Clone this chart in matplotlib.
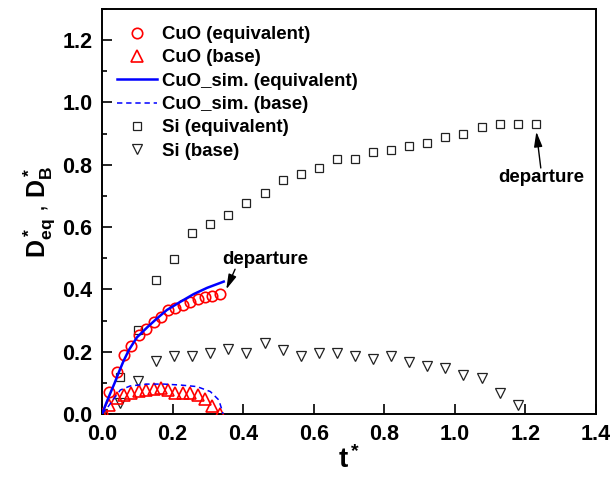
import matplotlib
matplotlib.use("Agg")
import matplotlib.pyplot as plt
from matplotlib.ticker import MultipleLocator, FormatStrFormatter
from matplotlib.lines import Line2D

plt.rcParams['font.family'] = ['Liberation Sans', 'DejaVu Sans']
plt.rcParams['font.weight'] = 'bold'
plt.rcParams['mathtext.fontset'] = 'custom'
plt.rcParams['mathtext.rm'] = 'Liberation Sans:bold'
plt.rcParams['mathtext.bf'] = 'Liberation Sans:bold'
plt.rcParams['mathtext.it'] = 'Liberation Sans:bold'

# ---- data ----
cuo_t = [0, 0.021, 0.042, 0.063, 0.083, 0.104, 0.125, 0.146, 0.167, 0.188,
         0.208, 0.229, 0.250, 0.271, 0.292, 0.313, 0.334]
cuo_eq = [0, 0.072, 0.136, 0.188, 0.218, 0.253, 0.272, 0.295, 0.310, 0.335,
          0.341, 0.351, 0.359, 0.368, 0.374, 0.379, 0.386]
cuo_base = [0, 0.030, 0.050, 0.060, 0.067, 0.073, 0.077, 0.079, 0.083, 0.076,
            0.067, 0.069, 0.066, 0.062, 0.048, 0.025, 0.001]

sim_eq_t = [0, 0.012, 0.024, 0.036, 0.048, 0.061, 0.076, 0.099, 0.128, 0.156,
            0.184, 0.222, 0.260, 0.298, 0.345]
sim_eq = [0, 0.035, 0.068, 0.100, 0.135, 0.170, 0.205, 0.246, 0.278, 0.307,
          0.334, 0.360, 0.385, 0.405, 0.425]

sim_base_t = [0, 0.015, 0.033, 0.052, 0.080, 0.128, 0.175, 0.222, 0.269,
              0.307, 0.331, 0.340, 0.343]
sim_base = [0, 0.020, 0.048, 0.077, 0.090, 0.096, 0.096, 0.093, 0.088,
            0.072, 0.045, 0.013, 0]

si_t = [0, 0.051, 0.102, 0.154, 0.205, 0.256, 0.307, 0.358, 0.409, 0.461,
        0.512, 0.563, 0.614, 0.666, 0.717, 0.768, 0.819, 0.870, 0.922, 0.973,
        1.024, 1.076, 1.127, 1.178, 1.230]
si_eq = [0, 0.118, 0.270, 0.429, 0.498, 0.580, 0.609, 0.638, 0.678, 0.708,
         0.751, 0.770, 0.789, 0.820, 0.819, 0.842, 0.849, 0.860, 0.870, 0.888,
         0.900, 0.920, 0.930, 0.930, 0.930]
si_base = [0, 0.036, 0.106, 0.170, 0.186, 0.186, 0.197, 0.208, 0.197, 0.227,
           0.205, 0.186, 0.197, 0.197, 0.186, 0.175, 0.186, 0.166, 0.155, 0.147,
           0.125, 0.117, 0.066, 0.029]

labels = ['CuO (equivalent)', 'CuO (base)', 'CuO_sim. (equivalent)',
          'CuO_sim. (base)', 'Si (equivalent)', 'Si (base)']

# ---- figure ----
fig = plt.figure(figsize=(6.13, 4.79), dpi=100)
ax = fig.add_axes([102/613, 1-414/479, (596-102)/613, (414-9)/479])

red = '#FF0000'
blue = '#0000FF'
grey = '#222222'

sq = dict(ls='none', marker='s', ms=6.2, mfc='none', mec=grey, mew=0.9)
tv = dict(ls='none', marker='v', ms=7, mfc='none', mec=grey, mew=0.9)
ci = dict(ls='none', marker='o', ms=7.5, mfc='none', mec=red, mew=1.2)
tu = dict(ls='none', marker='^', ms=8, mfc='none', mec=red, mew=1.2)
ls_eq = dict(color=blue, lw=1.8)
ls_b = dict(color=blue, lw=1.1, dashes=(3.5, 2.5))

ax.plot(si_t, si_eq, zorder=2, **sq)
ax.plot(si_t[:len(si_base)], si_base, zorder=2, **tv)
ax.plot(cuo_t, cuo_eq, zorder=3, **ci)
ax.plot(cuo_t, cuo_base, zorder=3, **tu)
ax.plot(sim_eq_t, sim_eq, zorder=4, **ls_eq)
ax.plot(sim_base_t, sim_base, zorder=4, **ls_b)

ax.set_xlim(0, 1.4)
ax.set_ylim(0, 1.3)
ax.xaxis.set_major_locator(MultipleLocator(0.2))
ax.yaxis.set_major_locator(MultipleLocator(0.2))
ax.yaxis.set_minor_locator(MultipleLocator(0.1))
ax.xaxis.set_major_formatter(FormatStrFormatter('%.1f'))
ax.yaxis.set_major_formatter(FormatStrFormatter('%.1f'))
ax.tick_params(which='major', direction='in', length=7, width=1.2, labelsize=15.5, pad=7)
ax.tick_params(which='minor', direction='in', length=3.5, width=1.2)
for lab in ax.get_xticklabels() + ax.get_yticklabels():
    lab.set_fontweight('bold')
for s in ax.spines.values():
    s.set_linewidth(1.4)

ax.set_xlabel(r'$\mathbf{t^*}$', fontsize=20, labelpad=1)
ax.set_ylabel(r'$\mathbf{D^*_{eq}}$ , $\mathbf{D^*_B}$', fontsize=18, labelpad=4)

handles = [Line2D([], [], **ci), Line2D([], [], **tu), Line2D([], [], **ls_eq),
           Line2D([], [], **ls_b), Line2D([], [], **sq), Line2D([], [], **tv)]
ax.legend(handles, labels, loc='upper left', bbox_to_anchor=(0.0298, 0.958),
          frameon=False, borderaxespad=0, borderpad=0, handlelength=2.15,
          handletextpad=0.3, labelspacing=0.34, numpoints=1,
          prop={'size': 13.4, 'weight': 'bold'})

arrow = dict(arrowstyle='-|>,head_length=0.9,head_width=0.25', color='black',
             lw=1.0, mutation_scale=10, shrinkA=1, shrinkB=2, patchA=None)
ax.annotate('departure', xy=(0.349, 0.392), xytext=(0.464, 0.496),
            ha='center', va='center', fontsize=13.5, fontweight='bold',
            arrowprops=dict(arrow, relpos=(0.15, 0.0)))
ax.annotate('departure', xy=(1.230, 0.915), xytext=(1.244, 0.758),
            ha='center', va='center', fontsize=13.5, fontweight='bold',
            arrowprops=dict(arrow, relpos=(0.5, 1.0)))

fig.savefig('out.png', dpi=100)
